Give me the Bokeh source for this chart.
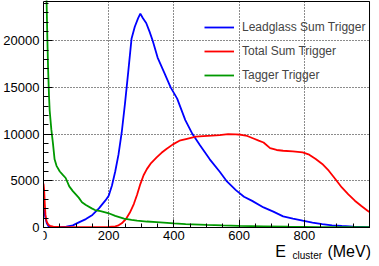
from bokeh.plotting import figure
from bokeh.models import (FixedTicker, Range1d, Legend, LegendItem, Label,
                          BasicTickFormatter, BoxAnnotation)
from bokeh.embed import file_html
from bokeh.resources import INLINE

# ---- data ----
lead_x = [0, 2, 5, 10, 15, 20, 30, 50, 70, 90, 110, 130, 150, 170, 190, 200, 210, 220, 230,
          240, 250, 260, 270, 280, 290, 297, 305, 315, 325, 335, 350, 370, 390, 410, 435,
          457, 480, 510, 540, 561, 590, 615, 640, 675, 705, 735, 765, 795, 825, 855, 885,
          915, 950, 1000]
lead_y = [2100, 2000, 1200, 450, 150, 60, 30, 30, 100, 230, 580, 900, 1350, 2050, 2900, 3400,
          4500, 6000, 7800, 10200, 13300, 16700, 20200, 21500, 22400, 22900, 22400, 21900,
          21000, 20000, 18200, 16600, 15000, 13800, 11500, 10000, 8800, 7300, 6000, 5000,
          4000, 3300, 2850, 2150, 1700, 1190, 950, 730, 530, 370, 230, 160, 90, 40]

tot_x = [0, 2, 4, 6, 8, 10, 15, 20, 30, 50, 100, 150, 200, 220, 228, 240, 253, 265, 277, 287,
         297, 307, 317, 330, 347, 362, 377, 397, 417, 440, 467, 490, 516, 540, 566, 590, 606,
         625, 646, 660, 675, 695, 715, 735, 765, 795, 815, 835, 855, 875, 895, 915, 935, 955,
         975, 994, 1000]
tot_y = [4700, 4000, 2500, 1400, 900, 600, 300, 180, 100, 60, 40, 40, 60, 130, 190, 450, 910,
         1600, 2510, 3500, 4650, 5600, 6250, 6900, 7500, 8000, 8400, 8900, 9290, 9500, 9720,
         9780, 9830, 9900, 10000, 9970, 9930, 9800, 9500, 9300, 9100, 8500, 8300, 8220, 8150,
         8040, 7800, 7330, 6800, 6080, 5200, 4290, 3550, 2870, 2300, 1800, 1650]

tag_x = [0, 3, 6, 9, 12, 14, 17, 19, 24, 29, 34, 40, 50, 60, 68, 79, 90, 108, 118, 130, 148,
         158, 175, 198, 220, 247, 270, 287, 317, 347, 400, 436, 500, 550, 600, 675, 750, 850,
         1000]
tag_y = [60000, 50000, 35000, 25000, 20000, 17100, 14000, 12500, 10500, 9000, 7300, 6600,
         6000, 5600, 5300, 4400, 3900, 3200, 2700, 2400, 2050, 1870, 1750, 1550, 1250, 950,
         820, 730, 640, 580, 450, 370, 280, 220, 170, 120, 80, 50, 30]

labels = ["Leadglass Sum Trigger", "Total Sum Trigger", "Tagger Trigger"]
colors = ["#0000ff", "#ff0000", "#009900"]
x_ticks = [0, 200, 400, 600, 800, 1000]
y_ticks = [0, 5000, 10000, 15000, 20000]
X_MAX, Y_MAX = 1000, 24200

FONT = "Liberation Sans"

# layout: frame spans the whole figure height; the x axis sits at y = 0
H = 263            # figure height
ZERO_PX = 227      # pixel row of y = 0
TOP_PX = 1         # pixel row of y = Y_MAX
ppu = (ZERO_PX - TOP_PX) / Y_MAX
y_lo = -(H - ZERO_PX) / ppu
y_hi = ZERO_PX / ppu

p = figure(width=371, height=H, output_backend="svg", toolbar_location=None,
           x_range=Range1d(0, 1003), y_range=Range1d(y_lo, y_hi),
           min_border_left=36, min_border_right=1, min_border_top=0, min_border_bottom=0)
p.background_fill_color = "white"
p.border_fill_color = "white"
p.outline_line_color = None

xt = FixedTicker(ticks=x_ticks, minor_ticks=[v for v in range(0, 1001, 50)])
yt = FixedTicker(ticks=y_ticks, minor_ticks=[v for v in range(0, 24001, 1000)])
p.xaxis.ticker = xt
p.yaxis.ticker = yt
p.xgrid.ticker = xt
p.ygrid.ticker = yt
p.xaxis.major_label_overrides = {1000: ""}
p.yaxis.formatter = BasicTickFormatter(use_scientific=False)
p.xaxis.fixed_location = 0
p.xaxis.bounds = (0, X_MAX)
p.yaxis.bounds = (0, Y_MAX)

for g in (p.xgrid, p.ygrid):
    g.grid_line_color = "black"
    g.grid_line_dash = "1 2"
    g.grid_line_width = 1
    g.grid_line_alpha = 0.9
    g.level = "image"

# hide grid below the x axis
p.add_layout(BoxAnnotation(top=0, fill_color="white", fill_alpha=1, line_color=None,
                           level="underlay"))

r1 = p.line(lead_x, lead_y, line_color=colors[0], line_width=1.8)
r2 = p.line(tot_x, tot_y, line_color=colors[1], line_width=1.8)
r3 = p.line(tag_x, tag_y, line_color=colors[2], line_width=1.8)

# frame box (ROOT style)
p.add_layout(BoxAnnotation(left=0, right=X_MAX, bottom=0, top=Y_MAX, fill_alpha=0,
                           line_color="black", line_width=1, line_alpha=1))

for ax in (p.xaxis, p.yaxis):
    ax.major_tick_out = 0
    ax.minor_tick_out = 0
    ax.major_label_text_font = FONT
    ax.major_label_text_font_size = "13px"
    ax.major_label_text_color = "black"
    ax.axis_line_color = "black"
    ax.major_tick_line_color = "black"
    ax.minor_tick_line_color = "black"
p.xaxis.major_tick_in = 8
p.xaxis.minor_tick_in = 4
p.yaxis.major_tick_in = 9
p.yaxis.minor_tick_in = 5
p.xaxis.major_label_standoff = 3
p.yaxis.major_label_standoff = 4

legend = Legend(items=[LegendItem(label=labels[0], renderers=[r1]),
                       LegendItem(label=labels[1], renderers=[r2]),
                       LegendItem(label=labels[2], renderers=[r3])],
                location=(161, H - 83), margin=0, padding=0, spacing=8,
                glyph_width=30, glyph_height=16, label_height=16, label_standoff=8,
                label_text_font=FONT, label_text_font_size="12px",
                background_fill_alpha=0, border_line_alpha=0)
p.add_layout(legend, "center")

# axis title E_cluster (MeV)
p.add_layout(Label(x=711, y=-(251 - ZERO_PX) / ppu, text="E",
                   text_font=FONT, text_font_size="16px", text_color="black",
                   text_baseline="alphabetic"))
p.add_layout(Label(x=764, y=-(254.5 - ZERO_PX) / ppu, text="cluster",
                   text_font=FONT, text_font_size="10px", text_color="black",
                   text_baseline="alphabetic"))
p.add_layout(Label(x=871, y=-(251 - ZERO_PX) / ppu, text="(MeV)",
                   text_font=FONT, text_font_size="16px", text_color="black",
                   text_baseline="alphabetic"))

open("out.html", "w").write(file_html(p, INLINE))
